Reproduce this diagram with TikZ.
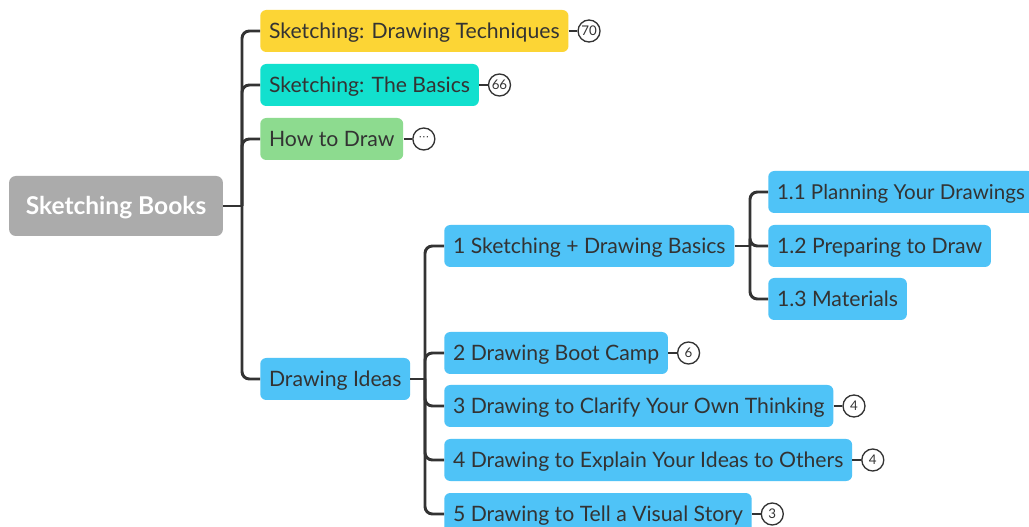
\documentclass[tikz,border=0pt]{standalone}
\usepackage{fontspec}
\setmainfont{Lato}
\newfontfamily\symfont{DejaVu Sans}
\usetikzlibrary{positioning}
\definecolor{ink}{HTML}{333333}
\definecolor{rootgray}{HTML}{ABABAB}
\definecolor{topicyellow}{HTML}{FCD535}
\definecolor{topicteal}{HTML}{12E0CE}
\definecolor{topicgreen}{HTML}{8DDB8F}
\definecolor{topicblue}{HTML}{4FC3F7}
\tikzset{
  topic/.style={rounded corners=4.5pt, minimum height=31.5pt, inner xsep=6.6pt,
    inner ysep=0pt, text height=12.4pt, text depth=1pt, anchor=west, text=ink,
    font=\fontsize{15.9}{18}\selectfont},
  rootbox/.style={rounded corners=5pt, fill=rootgray, minimum height=45pt,
    inner xsep=12.5pt, text height=14.3pt, text depth=1pt, text=white,
    font=\fontsize{18.4}{21}\selectfont\bfseries},
  link/.style={draw=ink, line width=2.2pt, rounded corners=5.5pt},
  badge/.style={circle, draw=ink, line width=1pt, fill=white, minimum size=16.5pt,
    inner sep=0pt, text=ink, font=\fontsize{10}{11}\selectfont},
  badgelink/.style={draw=ink, line width=1.6pt},
}
\begin{document}
\begin{tikzpicture}[x=0.75pt,y=-0.75pt]
\useasboundingbox[fill=white] (0,0) rectangle (1029,527);

% central topic
\node[rootbox] (root) at (116,206) {Sketching Books};

% main branches
\node[topic, fill=topicyellow] (tech) at (260,31) {Sketching: Drawing Techniques};
\node[topic, fill=topicteal]   (basics) at (260,85) {Sketching: The Basics};
\node[topic, fill=topicgreen]  (how) at (260,139) {How to Draw};
\node[topic, fill=topicblue]   (ideas) at (260,379) {Drawing Ideas};

% chapters of Drawing Ideas
\node[topic, fill=topicblue] (c1) at (444,246) {1 Sketching + Drawing Basics};
\node[topic, fill=topicblue] (c2) at (444,353) {2 Drawing Boot Camp};
\node[topic, fill=topicblue] (c3) at (444,406) {3 Drawing to Clarify Your Own Thinking};
\node[topic, fill=topicblue] (c4) at (444,460) {4 Drawing to Explain Your Ideas to Others};
\node[topic, fill=topicblue] (c5) at (444,514) {5 Drawing to Tell a Visual Story};

% sections of chapter 1
\node[topic, fill=topicblue, font=\fontsize{15.4}{18}\selectfont] (s1) at (768,192) {1.1 Planning Your Drawings};
\node[topic, fill=topicblue] (s2) at (768,246) {1.2 Preparing to Draw};
\node[topic, fill=topicblue] (s3) at (768,299) {1.3 Materials};

% branch junctions
\coordinate (jr) at (242,206);
\coordinate (ji) at (425,379);
\coordinate (jc) at (750,246);

\draw[link] (root.east) -- (jr);
\foreach \n in {tech,basics,how,ideas} \draw[link] (jr) |- (\n.west);
\draw[link] (ideas.east) -- (ji);
\foreach \n in {c1,c2,c3,c4,c5} \draw[link] (ji) |- (\n.west);
\draw[link] (c1.east) -- (jc);
\foreach \n in {s1,s2,s3} \draw[link] (jc) |- (\n.west);

% collapsed-branch counters
\node[badge, right=6.5pt of tech.east, anchor=west] (btech) {70};
\node[badge, right=6.5pt of basics.east, anchor=west] (bbasics) {66};
\node[badge, right=6.5pt of how.east, anchor=west] (bhow) {\symfont\fontsize{8}{9}\selectfont ⋯};
\node[badge, right=6.5pt of c2.east, anchor=west] (bc2) {6};
\node[badge, right=6.5pt of c3.east, anchor=west] (bc3) {4};
\node[badge, right=6.5pt of c4.east, anchor=west] (bc4) {4};
\node[badge, right=6.5pt of c5.east, anchor=west] (bc5) {3};
\foreach \a/\b in {tech/btech,basics/bbasics,how/bhow,c2/bc2,c3/bc3,c4/bc4,c5/bc5}
  \draw[badgelink] (\a.east) -- (\b.west);
\end{tikzpicture}
\end{document}
